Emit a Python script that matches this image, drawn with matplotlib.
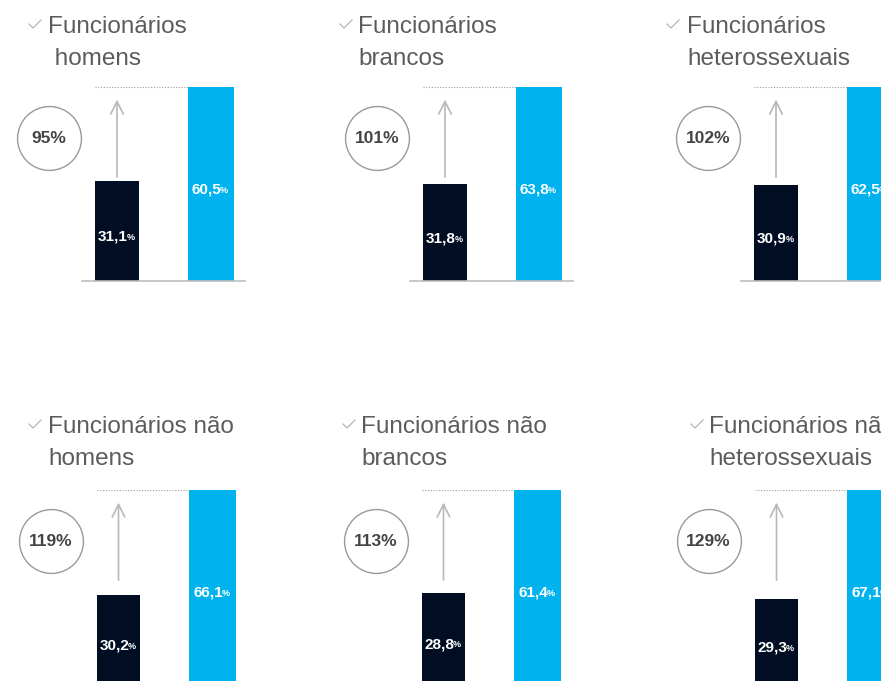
import matplotlib
matplotlib.use('Agg')
import matplotlib.pyplot as plt
from matplotlib.lines import Line2D

plt.rcParams['font.family'] = ['Liberation Sans', 'DejaVu Sans']

# ==================== 数据 ====================
titles = [
    ['Funcionários', ' homens'],
    ['Funcionários', 'brancos'],
    ['Funcionários', 'heterossexuais'],
    ['Funcionários não', 'homens'],
    ['Funcionários não', 'brancos'],
    ['Funcionários não', 'heterossexuais'],
]
dark_vals = [31.1, 31.8, 30.9, 30.2, 28.8, 29.3]
blue_vals = [60.5, 63.8, 62.5, 66.1, 61.4, 67.1]
gap_labels = ['95%', '101%', '102%', '119%', '113%', '129%']

# ==================== 布局 (像素) ====================
W, H = 881, 681
DARK = '#000d22'
BLUE = '#00b2ee'
GREY_TXT = '#5c5c5c'

# dark bar centre x, baseline y, title x, title line1 baseline y
dark_cx = [117, 445, 776, 118.5, 443.5, 776.5]
base_y = [281, 281, 281, 684, 684, 684]
title_x = [48, 358, 687, 48, 361, 709]
title_y = [33, 33, 33, 433, 433, 433]
check_x = [29, 340, 667, 29, 343, 691]

BAR_H = 194      # 柱子区域高度
STEP = 94        # 两根柱子中心距
LEFT_PAD = 35
AX_W = 163


def fx(x):
    return x / W


def fy(y):
    return 1 - y / H


fig = plt.figure(figsize=(W / 100, H / 100), dpi=100)

for i in range(6):
    left = dark_cx[i] - LEFT_PAD
    ax = fig.add_axes([fx(left), fy(base_y[i]), AX_W / W, BAR_H / H])
    ax.set_xlim(-LEFT_PAD / STEP, (AX_W - LEFT_PAD) / STEP)
    top = blue_vals[i]
    ax.set_ylim(0, top)
    ax.axis('off')

    ax.bar([0], [dark_vals[i]], width=0.46, color=DARK)
    ax.bar([1], [blue_vals[i]], width=0.49, color=BLUE)

    # 基线
    if i < 3:
        ax.axhline(0, color='#bdbdbd', lw=1.2, clip_on=False)
    # 顶部虚线
    ax.hlines(top, -0.23, 1 - 0.245, colors='#9a9a9a', linestyles=(0, (1, 1.5)), lw=0.8)

    # 箭头
    ax.annotate('', xy=(0, 0.935), xytext=(0, 0.535),
                xycoords=('data', 'axes fraction'), textcoords=('data', 'axes fraction'),
                arrowprops=dict(arrowstyle='->,head_length=0.9,head_width=0.45',
                                color='#b8b8b8', lw=1.2, shrinkA=0, shrinkB=0))

    # 圆圈 + 增长百分比
    cx = -68 / STEP
    ax.scatter([cx], [0.735], s=46 ** 2, facecolor='white', edgecolor='#9a9a9a',
               linewidth=1.0, transform=ax.get_xaxis_transform(), clip_on=False, zorder=3)
    ax.text(cx, 0.735, gap_labels[i], transform=ax.get_xaxis_transform(),
            ha='center', va='center', fontsize=12.5, fontweight='bold', color='#444444', zorder=4)

    # 柱内数值
    for xpos, v in [(0, dark_vals[i]), (1, blue_vals[i])]:
        t = ax.annotate(f'{v:.1f}'.replace('.', ','), xy=(xpos, v / 2), xytext=(-3, -4),
                        textcoords='offset points', ha='center', va='center',
                        fontsize=11, fontweight='bold', color='white')
        ax.annotate('%', xy=(0.95, 0.12), xycoords=t, ha='left', va='bottom',
                    fontsize=6.5, fontweight='bold', color='white')

    # 标题
    fig.text(fx(title_x[i]), fy(title_y[i]), titles[i][0], fontsize=17.5,
             color=GREY_TXT, va='baseline', ha='left')
    fig.text(fx(title_x[i]), fy(title_y[i] + 32), titles[i][1], fontsize=17.5,
             color=GREY_TXT, va='baseline', ha='left')

    # 小勾
    x0, y0 = check_x[i], title_y[i] - 9
    fig.add_artist(Line2D([fx(x0), fx(x0 + 4), fx(x0 + 12)],
                          [fy(y0), fy(y0 + 4), fy(y0 - 4)],
                          color='#b5b5b5', lw=0.9, transform=fig.transFigure))

fig.savefig('out.png', dpi=100, facecolor='white')
